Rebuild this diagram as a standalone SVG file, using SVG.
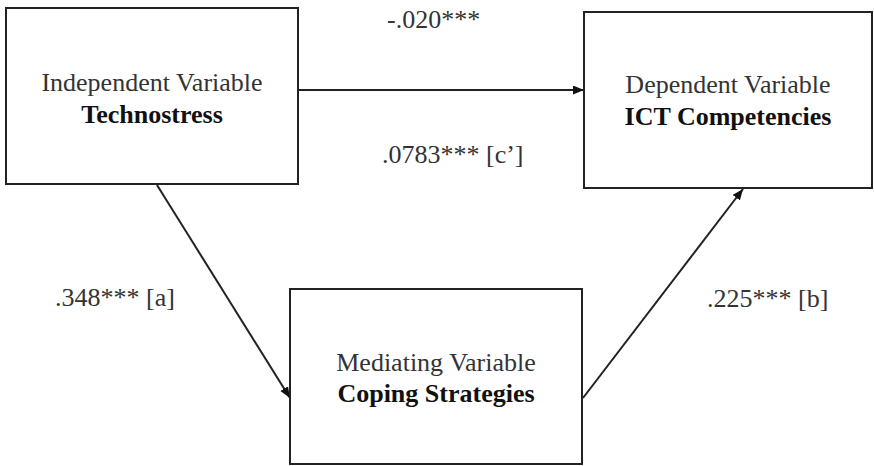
<svg xmlns="http://www.w3.org/2000/svg" width="874" height="466" viewBox="0 0 874 466">
  <style>
    .box { fill: #ffffff; stroke: #222222; stroke-width: 2; }
    .conn { fill: none; stroke: #222222; stroke-width: 2; }
    text { font-family: "Liberation Serif", "Times New Roman", serif; font-size: 26px; }
    .role { fill: #333333; text-anchor: middle; }
    .name { fill: #111111; font-weight: bold; text-anchor: middle; }
    .coef { fill: #333333; }
  </style>
  <defs>
    <marker id="arrow" markerUnits="userSpaceOnUse" markerWidth="12" markerHeight="10" refX="11" refY="4.5" orient="auto">
      <path d="M0,0 L11,4.5 L0,9 Z" fill="#111111"/>
    </marker>
  </defs>

  <rect width="874" height="466" fill="#ffffff"/>

  <g id="connectors">
    <line class="conn" x1="298" y1="90" x2="584" y2="90" marker-end="url(#arrow)"/>
    <line class="conn" x1="157" y1="185" x2="290" y2="398" marker-end="url(#arrow)"/>
    <line class="conn" x1="583" y1="398" x2="743" y2="189" marker-end="url(#arrow)"/>
  </g>

  <g id="independent">
    <rect class="box" x="6" y="8" width="292" height="176"/>
    <text class="role" x="152" y="91">Independent Variable</text>
    <text class="name" x="152" y="123">Technostress</text>
  </g>

  <g id="dependent">
    <rect class="box" x="584" y="12" width="288" height="176"/>
    <text class="role" x="728" y="93">Dependent Variable</text>
    <text class="name" x="728" y="125">ICT Competencies</text>
  </g>

  <g id="mediating">
    <rect class="box" x="290" y="289" width="292" height="175"/>
    <text class="role" x="436" y="371">Mediating Variable</text>
    <text class="name" x="436" y="402">Coping Strategies</text>
  </g>

  <g id="coefficients">
    <text class="coef" x="387" y="28">-.020***</text>
    <text class="coef" x="382" y="163">.0783*** [c’]</text>
    <text class="coef" x="55" y="306">.348*** [a]</text>
    <text class="coef" x="707" y="307">.225*** [b]</text>
  </g>
</svg>
